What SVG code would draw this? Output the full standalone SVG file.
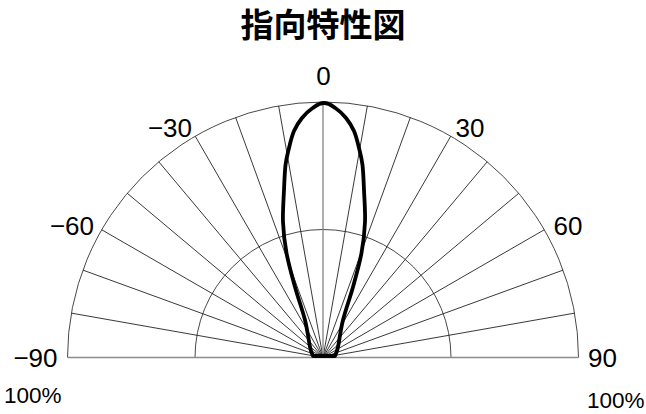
<svg xmlns="http://www.w3.org/2000/svg" width="646" height="414" viewBox="0 0 646 414">
<style>
.lbl{font-family:"Liberation Sans",Arial,sans-serif;font-size:26px;fill:#000}
.pct{font-family:"Liberation Sans",Arial,sans-serif;font-size:22.5px;fill:#000}
.title{font-family:"Noto Sans CJK JP","Noto Sans CJK SC",sans-serif;font-size:33px;font-weight:700;fill:#000}
.spoke{stroke:#222;stroke-width:0.9;fill:none}
.axis{stroke:#8c8c8c;stroke-width:1.4;fill:none}
.ring{stroke:#333;stroke-width:0.9;fill:none}
.lobe{stroke:#000;stroke-width:3.8;fill:none;stroke-linejoin:round}
</style>
<rect width="646" height="414" fill="#fff"/>
<text class="title" x="323" y="37" text-anchor="middle">指向特性図</text>
<g id="grid">
<path class="ring" d="M67.5,357.5 A255.5,255.5 0 0 1 578.5,357.5"/>
<path class="ring" d="M195,357.5 A128,128 0 0 1 451,357.5"/>
<g id="spokes">
<line class="spoke" x1="323" y1="357.5" x2="367.37" y2="105.88"/>
<line class="spoke" x1="323" y1="357.5" x2="410.39" y2="117.41"/>
<line class="spoke" x1="323" y1="357.5" x2="450.75" y2="136.23"/>
<line class="spoke" x1="323" y1="357.5" x2="487.23" y2="161.78"/>
<line class="spoke" x1="323" y1="357.5" x2="518.72" y2="193.27"/>
<line class="spoke" x1="323" y1="357.5" x2="544.27" y2="229.75"/>
<line class="spoke" x1="323" y1="357.5" x2="563.09" y2="270.11"/>
<line class="spoke" x1="323" y1="357.5" x2="574.62" y2="313.13"/>
<line class="spoke" x1="323" y1="357.5" x2="278.63" y2="105.88"/>
<line class="spoke" x1="323" y1="357.5" x2="235.61" y2="117.41"/>
<line class="spoke" x1="323" y1="357.5" x2="195.25" y2="136.23"/>
<line class="spoke" x1="323" y1="357.5" x2="158.77" y2="161.78"/>
<line class="spoke" x1="323" y1="357.5" x2="127.28" y2="193.27"/>
<line class="spoke" x1="323" y1="357.5" x2="101.73" y2="229.75"/>
<line class="spoke" x1="323" y1="357.5" x2="82.91" y2="270.11"/>
<line class="spoke" x1="323" y1="357.5" x2="71.38" y2="313.13"/>
</g>
<line class="axis" x1="323" y1="357.5" x2="323" y2="102"/>
<line class="axis" x1="67.5" y1="357.5" x2="578.5" y2="357.5"/>
</g>
<g id="lobe">
<path class="lobe" d="M313,356 C312.5,354.5 311.3,353 310,347 C308.7,341 307.5,330 305,320 C302.5,310 298.1,298.2 295,287 C291.9,275.8 288.5,263.8 286.5,253 C284.5,242.2 283.4,232.5 283,222 C282.6,211.5 283.6,199.5 284,190 C284.4,180.5 284.7,172 285.5,165 C286.3,158 287.6,153.7 289,148 C290.4,142.3 291.8,136 294,131 C296.2,126 298.9,121.8 302,118 C305.1,114.2 309,110.5 312.7,108 C316.4,105.5 319,103 324,103 C329,103 331.6,105.5 335.3,108 C339,110.5 342.9,114.2 346,118 C349.1,121.8 351.8,126 354,131 C356.2,136 357.6,142.3 359,148 C360.4,153.7 361.7,158 362.5,165 C363.3,172 363.6,180.5 364,190 C364.4,199.5 365.4,211.5 365,222 C364.6,232.5 363.5,242.2 361.5,253 C359.5,263.8 356.1,275.8 353,287 C349.9,298.2 345.5,310 343,320 C340.5,330 339.3,341 338,347 C336.7,353 335.5,354.5 335,356 Z"/>
</g>
<g id="labels">
<text class="lbl" x="323.5" y="85" text-anchor="middle">0</text>
<text class="lbl" x="170" y="136.5" text-anchor="middle">−30</text>
<text class="lbl" x="470" y="136.5" text-anchor="middle">30</text>
<text class="lbl" x="72" y="234.5" text-anchor="middle">−60</text>
<text class="lbl" x="568" y="234.5" text-anchor="middle">60</text>
<text class="lbl" x="57.5" y="366.5" text-anchor="end">−90</text>
<text class="lbl" x="588" y="366.5">90</text>
<text class="pct" x="4" y="403">100%</text>
<text class="pct" x="587" y="408">100%</text>
</g>
</svg>
